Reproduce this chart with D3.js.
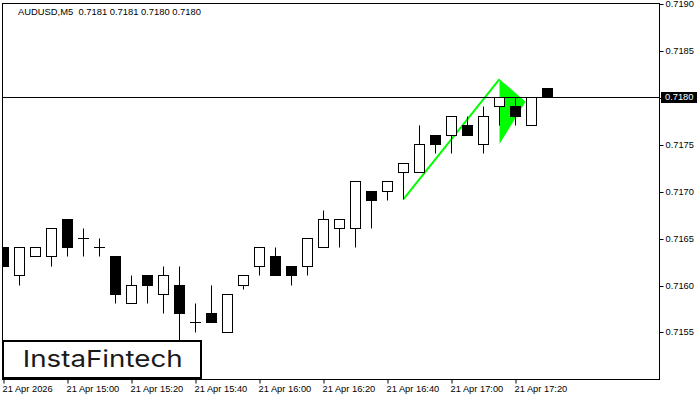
<!DOCTYPE html>
<html>
<head>
<meta charset="utf-8">
<script src="https://cdn.jsdelivr.net/npm/d3@7/dist/d3.min.js"></script>
<style>
  html, body { margin: 0; padding: 0; background: #fff; }
  svg { display: block; }
  .axis text { font-family: "Liberation Sans", Arial, sans-serif; font-size: 9.3px; fill: #000; }
</style>
</head>
<body>
<svg id="chart" width="700" height="400"></svg>
<script>
// ---- data ----
const symbol = "AUDUSD,M5";
const headerValues = ["0.7181", "0.7181", "0.7180", "0.7180"];
const opens  = [0.7164,0.7161,0.7163,0.7163,0.7167,0.7165,0.7164,0.7163,0.7158,0.7161,0.7159,0.7160,0.7156,0.7157,0.71549,0.7160,0.7162,0.7163,0.7162,0.7162,0.7164,0.7166,0.7166,0.7170,0.7170,0.7172,0.7172,0.7176,0.7176,0.7177,0.7175,0.7179,0.7179,0.7177,0.7181];
const highs  = [0.7164,0.7164,0.7164,0.7166,0.7167,0.7166,0.7165,0.7163,0.7161,0.7161,0.7162,0.7162,0.7158,0.7160,0.7159,0.7161,0.7164,0.7164,0.7162,0.7165,0.7168,0.7167,0.7171,0.7170,0.7171,0.7173,0.7177,0.7176,0.7178,0.7178,0.7179,0.7180,0.7180,0.7180,0.7181];
const lows   = [0.7162,0.7160,0.7163,0.7162,0.7163,0.7163,0.7163,0.7158,0.7158,0.7158,0.7157,0.7153,0.71549,0.7156,0.71549,0.71595,0.7161,0.7161,0.7160,0.7161,0.7164,0.7164,0.7164,0.7166,0.7169,0.71691,0.7172,0.7174,0.7174,0.7176,0.7174,0.7177,0.7177,0.7177,0.7180];
const closes = [0.7162,0.7164,0.7164,0.7166,0.7164,0.7165,0.7164,0.7159,0.7160,0.7160,0.7161,0.7157,0.7156,0.7156,0.7159,0.7161,0.7164,0.7161,0.7161,0.7165,0.7167,0.7167,0.7171,0.7169,0.7171,0.7173,0.7175,0.7175,0.7178,0.7176,0.7178,0.7180,0.7178,0.7180,0.7180];
const timeTickIndex = [0, 4, 8, 12, 16, 20, 24, 28, 32];
const timeTickLabels = ["21 Apr 2026","21 Apr 15:00","21 Apr 15:20","21 Apr 15:40","21 Apr 16:00","21 Apr 16:20","21 Apr 16:40","21 Apr 17:00","21 Apr 17:20"];
const priceTicks = [0.7155,0.7160,0.7165,0.7170,0.7175,0.7180,0.7185,0.7190];
const currentPrice = 0.7180;
// pennant pattern (index, price)
const poleIdx = [25, 31];
const polePrice = [0.71691, 0.71819];
const flagIdx = [31, 32.63, 31];
const flagPrice = [0.71819, 0.71795, 0.71750];
const brand = "InstaFintech";

// ---- layout ----
const svg = d3.select("#chart");
const plot = { left: 2.5, right: 659.5, top: 3.5, bottom: 379.5 };
const x = d3.scaleLinear().domain([0, 34]).range([3.5, 547.5]);
const y = d3.scaleLinear().domain([0.7150, 0.7190]).range([378.3, 3.3]);
const py = v => Math.round(y(v)) + 0.5;

svg.append("defs").append("clipPath").attr("id", "clip")
  .append("rect").attr("x", plot.left).attr("y", plot.top)
  .attr("width", plot.right - plot.left).attr("height", plot.bottom - plot.top);

const g = svg.append("g").attr("clip-path", "url(#clip)");

// pennant flag
const green = "#00ff00";
const flagPts = flagIdx.map((d, i) => [x(d), y(flagPrice[i])]);
g.append("path").attr("d", d3.line()(flagPts) + "Z").attr("fill", green).attr("stroke", "none");
g.append("path")
  .attr("d", d3.line()(poleIdx.map((d, i) => [x(d), y(polePrice[i])])))
  .attr("stroke", green).attr("stroke-width", 2).attr("fill", "none");

// candles
const idx = d3.range(opens.length);
const cg = g.selectAll("g.candle").data(idx).join("g").attr("class", "candle");
cg.append("line")
  .attr("x1", i => x(i)).attr("x2", i => x(i))
  .attr("y1", i => py(highs[i])).attr("y2", i => py(lows[i]))
  .attr("stroke", "#000").attr("stroke-width", 1);
cg.each(function(i) {
  const sel = d3.select(this);
  const o = opens[i], c = closes[i];
  const top = py(Math.max(o, c)), bot = py(Math.min(o, c));
  if (Math.abs(top - bot) < 0.5) {
    sel.append("line").attr("x1", x(i) - 5.5).attr("x2", x(i) + 5.5)
      .attr("y1", top).attr("y2", top).attr("stroke", "#000").attr("stroke-width", 1);
  } else {
    sel.append("rect").attr("x", x(i) - 5).attr("y", top)
      .attr("width", 10).attr("height", bot - top)
      .attr("fill", c >= o ? "#fff" : "#000").attr("stroke", "#000").attr("stroke-width", 1);
  }
});

// current price line
svg.append("line").attr("x1", plot.left).attr("x2", plot.right)
  .attr("y1", py(currentPrice)).attr("y2", py(currentPrice))
  .attr("stroke", "#000").attr("stroke-width", 1);

// frame
svg.append("rect").attr("x", plot.left).attr("y", plot.top)
  .attr("width", plot.right - plot.left).attr("height", plot.bottom - plot.top)
  .attr("fill", "none").attr("stroke", "#000").attr("stroke-width", 1);

// y axis
const yAxis = svg.append("g").attr("class", "axis")
  .attr("transform", `translate(${plot.right},0)`)
  .call(d3.axisRight(y).tickValues(priceTicks).tickFormat(d3.format(".4f")).tickSize(4).tickPadding(2));
yAxis.select(".domain").remove();
yAxis.selectAll(".tick line").attr("stroke", "#000");
yAxis.selectAll(".tick").attr("transform", d => `translate(0,${Math.round(y(d)) + 1.5})`);

// current price label
const cpy = py(currentPrice);
svg.append("rect").attr("x", 661).attr("y", cpy - 5.5).attr("width", 36).attr("height", 11).attr("fill", "#000");
svg.append("text").attr("x", 665).attr("y", cpy).attr("dy", "0.32em")
  .attr("font-family", "Liberation Sans, Arial, sans-serif").attr("font-size", "9.3px")
  .attr("fill", "#fff").text(d3.format(".4f")(currentPrice));

// x axis
const xAxis = svg.append("g").attr("class", "axis")
  .attr("transform", `translate(0,${plot.bottom})`)
  .call(d3.axisBottom(x).tickValues(timeTickIndex).tickFormat((d, i) => timeTickLabels[i]).tickSize(4).tickPadding(2));
xAxis.select(".domain").remove();
xAxis.selectAll(".tick line").attr("stroke", "#000");
xAxis.selectAll(".tick text").attr("text-anchor", "start").attr("x", -1.5);

// header
svg.append("text").attr("x", 18).attr("y", 15)
  .attr("font-family", "Liberation Sans, Arial, sans-serif").attr("font-size", "9.4px").attr("fill", "#000")
  .attr("xml:space", "preserve")
  .text(symbol + "  " + headerValues.join(" "));

// logo
svg.append("rect").attr("x", 3).attr("y", 341).attr("width", 198).attr("height", 37)
  .attr("fill", "#fff").attr("stroke", "#000").attr("stroke-width", 2);
svg.append("text").attr("x", 22.7).attr("y", 367.3)
  .attr("font-family", "Inter, Lato, sans-serif").attr("font-weight", 400).attr("font-size", "23px")
  .attr("fill", "#1a1a1a").attr("textLength", 160).attr("lengthAdjust", "spacingAndGlyphs")
  .text(brand);
</script>
</body>
</html>
